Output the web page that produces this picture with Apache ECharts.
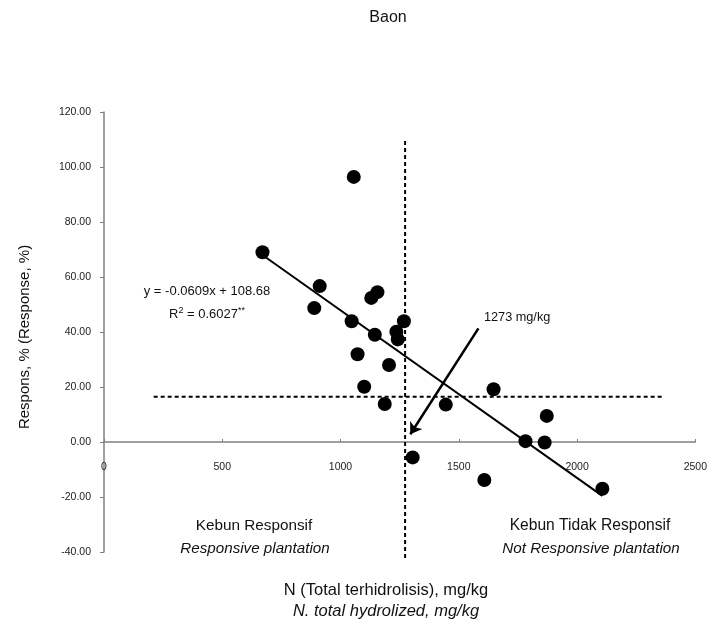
<!DOCTYPE html>
<html><head><meta charset="utf-8">
<script src="https://cdn.jsdelivr.net/npm/echarts@6/dist/echarts.min.js"></script>
<style>html,body{margin:0;padding:0;background:#fff}#c{width:710px;height:623px}</style>
</head><body><div id="c"></div>
<script>
// Data
var nTotal = [670, 1056, 912, 889, 1047, 1072, 1156, 1130, 1145, 1205, 1268, 1236, 1242, 1100, 1187, 1445, 1647, 1872, 1782, 1863, 1305, 1608, 2107];
var response = [69.0, 96.4, 56.7, 48.7, 43.9, 31.9, 54.5, 52.4, 39.0, 28.0, 43.9, 40.1, 37.3, 20.1, 13.8, 13.6, 19.2, 9.5, 0.3, -0.2, -5.6, -13.8, -17.0];
var trendEnds = [[670, 68.0], [2107, -19.6]];
var vLine = [[1273, 109.5], [1273, -43]];
var hLine = [[210, 16.5], [2368, 16.5]];
var arrowLine = [[1583, 41.3], [1295, 2.8]];
var xTicks = [0, 500, 1000, 1500, 2000, 2500];
var yTicks = [-40, -20, 0, 20, 40, 60, 80, 100, 120];

var FONT = "'Liberation Sans', Arial, sans-serif";
var chart = echarts.init(document.getElementById('c'));
var pts = nTotal.map(function (x, i) { return [x, response[i]]; });

chart.setOption({
  animation: false,
  backgroundColor: '#fff',
  grid: { left: 104, right: 12, top: 112, bottom: 71 },
  xAxis: {
    type: 'value', min: xTicks[0], max: xTicks[xTicks.length - 1], interval: 500,
    axisLine: { onZero: true, lineStyle: { color: '#808080', width: 1.5 } },
    axisTick: { show: true, inside: true, length: 3, lineStyle: { color: '#808080' } },
    axisLabel: { margin: -90, color: '#222', fontSize: 10.5, fontFamily: FONT,
      formatter: function (v) { return String(v); } },
    splitLine: { show: false }
  },
  yAxis: {
    type: 'value', min: yTicks[0], max: yTicks[yTicks.length - 1], interval: 20,
    axisLine: { show: true, onZero: false, lineStyle: { color: '#808080', width: 1.5 } },
    axisTick: { show: true, length: 4, lineStyle: { color: '#808080' } },
    axisLabel: { margin: 13, color: '#222', fontSize: 10.5, fontFamily: FONT,
      formatter: function (v) { return v.toFixed(2); } },
    splitLine: { show: false }
  },
  series: [
    { type: 'line', data: vLine, symbol: 'none', clip: false,
      lineStyle: { color: '#000', width: 2, type: [4, 3] }, z: 2 },
    { type: 'line', data: hLine, symbol: 'none', clip: false,
      lineStyle: { color: '#000', width: 2, type: [4, 3] }, z: 2 },
    { type: 'line', data: trendEnds, symbol: 'none',
      lineStyle: { color: '#000', width: 2 }, z: 3 },
    { type: 'lines', coordinateSystem: 'cartesian2d', z: 4,
      symbol: ['none', 'arrow'], symbolSize: 11,
      lineStyle: { color: '#000', width: 2.5, opacity: 1 },
      data: [{ coords: arrowLine }] },
    { type: 'scatter', data: pts, symbol: 'circle', symbolSize: 14,
      itemStyle: { color: '#000', opacity: 1 }, z: 5 }
  ],
  graphic: [
    { type: 'text', x: 388, y: 18, style: { text: 'Baon', font: '16px ' + FONT, fill: '#111', align: 'center', verticalAlign: 'middle' } },
    { type: 'text', x: 25, y: 337, rotation: Math.PI / 2, style: { text: 'Respons, % (Response, %)', font: '15px ' + FONT, fill: '#111', align: 'center', verticalAlign: 'middle' } },
    { type: 'text', x: 386, y: 590, style: { text: 'N (Total terhidrolisis), mg/kg', font: '16.5px ' + FONT, fill: '#111', align: 'center', verticalAlign: 'middle' } },
    { type: 'text', x: 386, y: 611, style: { text: 'N. total hydrolized, mg/kg', font: 'italic 16.5px ' + FONT, fill: '#111', align: 'center', verticalAlign: 'middle' } },
    { type: 'text', x: 254, y: 526, style: { text: 'Kebun Responsif', font: '15.3px ' + FONT, fill: '#111', align: 'center', verticalAlign: 'middle' } },
    { type: 'text', x: 255, y: 549, style: { text: 'Responsive plantation', font: 'italic 15.2px ' + FONT, fill: '#111', align: 'center', verticalAlign: 'middle' } },
    { type: 'text', x: 590, y: 526, style: { text: 'Kebun Tidak Responsif', font: '15.6px ' + FONT, fill: '#111', align: 'center', verticalAlign: 'middle' } },
    { type: 'text', x: 591, y: 549, style: { text: 'Not Responsive plantation', font: 'italic 15.2px ' + FONT, fill: '#111', align: 'center', verticalAlign: 'middle' } },
    { type: 'text', x: 207, y: 291, style: { text: 'y = -0.0609x + 108.68', font: '13px ' + FONT, fill: '#111', align: 'center', verticalAlign: 'middle' } },
    { type: 'text', x: 207, y: 314, style: { rich: { a: { font: '13px ' + FONT, fill: '#111' }, s: { font: '9px ' + FONT, fill: '#111', verticalAlign: 'top', padding: [0,0,6,0] } }, text: '{a|R}{s|2}{a| = 0.6027}{s|**}', align: 'center', verticalAlign: 'middle' } },
    { type: 'text', x: 484, y: 317, style: { text: '1273 mg/kg', font: '12.7px ' + FONT, fill: '#111', align: 'left', verticalAlign: 'middle' } }
  ]
});
</script></body></html>
